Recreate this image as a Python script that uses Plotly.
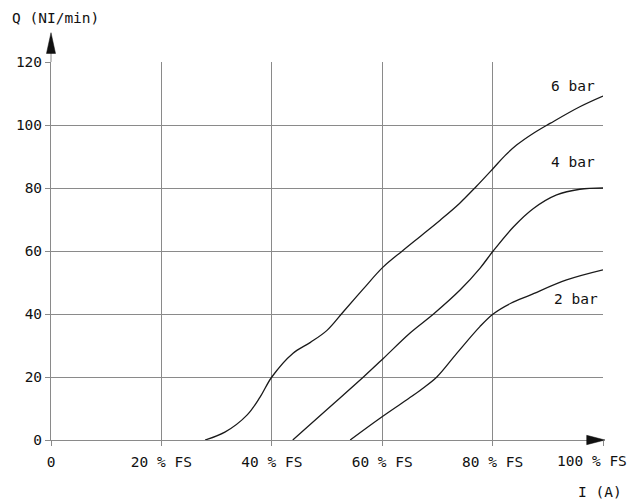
import plotly.graph_objects as go

# Data
x_6bar = [27.9, 31.5, 35.5, 37.9, 40, 43.8, 47, 50, 53, 56.5, 60.1, 63.7, 67, 70.5, 74, 77, 80.1, 82.2, 84.4, 87.4, 90.4, 95.8, 100]
y_6bar = [0, 2.5, 7.9, 13.7, 20, 27.5, 31, 34.8, 40.8, 47.8, 54.8, 60.1, 64.8, 69.8, 75.1, 80.4, 86.2, 90.2, 93.7, 97.4, 100.5, 105.8, 109.2]

x_4bar = [43.8, 50, 56.6, 60.2, 65, 69.3, 74.1, 77.7, 80.1, 83.8, 87.4, 91.6, 95.8, 100]
y_4bar = [0, 9.7, 20, 25.9, 33.9, 40, 47.6, 54.5, 60, 67.7, 73.5, 77.8, 79.6, 80]

x_2bar = [54.2, 59.6, 64.4, 67.2, 69.9, 73.5, 77.7, 80.1, 83.3, 86.8, 93.4, 100]
y_2bar = [0, 6.9, 12.7, 16.2, 20, 27.5, 36, 40, 43.4, 46, 50.8, 54]

series = [("6 bar", x_6bar, y_6bar), ("4 bar", x_4bar, y_4bar), ("2 bar", x_2bar, y_2bar)]
label_pos = {"6 bar": (98.9, 112.4), "4 bar": (98.9, 88.4), "2 bar": (99.5, 44.8)}

x_ticks = [0, 20, 40, 60, 80, 100]
x_tick_labels = ["0", "20 % FS", "40 % FS", "60 % FS", "80 % FS", "100 % FS"]
y_ticks = [0, 20, 40, 60, 80, 100, 120]

FONT = "DejaVu Sans Mono"
FS = 14.5
TXT = "#111111"
GRID = "#8a8a8a"

fig = go.Figure()
for name, xs, ys in series:
    fig.add_trace(go.Scatter(x=xs, y=ys, mode="lines", name=name,
                             line=dict(color="#1a1a1a", width=1.3, shape="spline", smoothing=1.0),
                             showlegend=False, hoverinfo="skip"))

annotations = []
for name, (lx, ly) in label_pos.items():
    annotations.append(dict(x=lx, y=ly, xref="x", yref="y", text=name, showarrow=False,
                            xanchor="right", yanchor="middle",
                            font=dict(family=FONT, size=FS, color=TXT)))

# last x tick label placed as annotation so it stays inside the visible page
shown_tick_text = x_tick_labels[:-1] + [""]
annotations.append(dict(x=x_ticks[-1], y=0, xref="x", yref="y", text=x_tick_labels[-1],
                        showarrow=False, xanchor="right", yanchor="middle",
                        xshift=26, yshift=-21,
                        font=dict(family=FONT, size=FS, color=TXT)))

annotations.append(dict(x=-0.0743, y=1.116, xref="paper", yref="paper", text="Q (NI/min)",
                        showarrow=False, xanchor="left", yanchor="middle",
                        font=dict(family=FONT, size=FS, color=TXT)))
annotations.append(dict(x=0.9946, y=-0.1376, xref="paper", yref="paper", text="I (A)",
                        showarrow=False, xanchor="center", yanchor="middle",
                        font=dict(family=FONT, size=FS, color=TXT)))

# axis arrows (decoration, paper coordinates)
shapes = [
    dict(type="line", xref="paper", yref="paper", x0=0, x1=0, y0=1.0, y1=1.03,
         line=dict(color=GRID, width=1)),
    dict(type="path", xref="paper", yref="paper",
         path="M 0,1.0775 L -0.0082,1.0225 L 0.0082,1.0225 Z",
         fillcolor="#111111", line=dict(color="#111111", width=0.5)),
    dict(type="path", xref="paper", yref="paper",
         path="M 1.0036,0 L 0.9705,0.0124 L 0.9705,-0.0124 Z",
         fillcolor="#111111", line=dict(color="#111111", width=0.5)),
]

fig.update_layout(
    width=638, height=494,
    margin=dict(l=43, r=43, t=54, b=62, autoexpand=False),
    paper_bgcolor="white", plot_bgcolor="white",
    annotations=annotations, shapes=shapes,
    xaxis=dict(range=[0, 100], tickvals=x_ticks, ticktext=shown_tick_text, automargin=False,
               showgrid=True, gridcolor=GRID, gridwidth=1,
               showline=True, linecolor=GRID, linewidth=1, mirror=False,
               ticks="outside", ticklen=5, tickcolor=GRID, ticklabelstandoff=4,
               zeroline=False, tickfont=dict(family=FONT, size=FS, color=TXT), fixedrange=True),
    yaxis=dict(range=[0, 120], tickvals=y_ticks, automargin=False,
               showgrid=True, gridcolor=GRID, gridwidth=1,
               showline=True, linecolor=GRID, linewidth=1,
               ticks="outside", ticklen=5, tickcolor=GRID, ticklabelstandoff=0,
               zeroline=False, tickfont=dict(family=FONT, size=FS, color=TXT), fixedrange=True),
)

fig.write_html("out.html")
